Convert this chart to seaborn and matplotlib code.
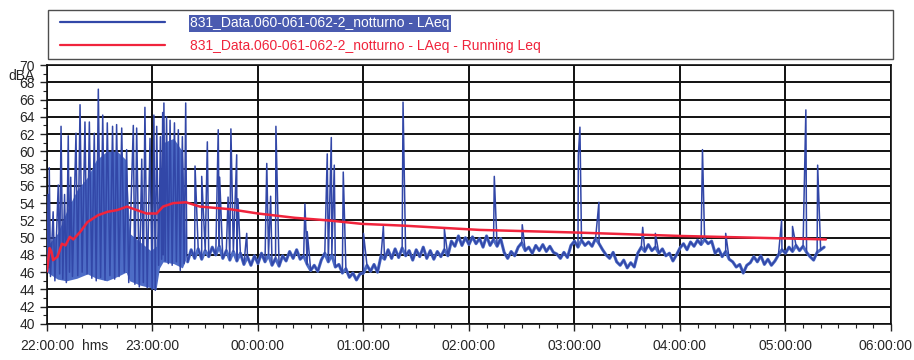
import numpy as np
import matplotlib
matplotlib.use("Agg")
import matplotlib.pyplot as plt
import matplotlib.transforms as mtransforms
from matplotlib import font_manager
from matplotlib.legend_handler import HandlerLine2D
import seaborn as sns

# =============================================================================
# DATA (minutes after 22:00:00, levels in dBA)
# =============================================================================

# busy first part of the night: troughs and peaks of the LAeq trace
busy_min = [0.0, 0.6, 1.0, 1.3, 2.0, 3.5, 4.5, 6.4, 7.2, 8.0, 9.0, 10.0, 11.0, 12.1,
            12.8, 13.5, 14.5, 16.5, 17.5, 18.8, 20.0, 21.6, 22.8, 24.1, 25.5, 26.9,
            28.0, 29.2, 30.5, 31.7, 33.0, 34.3, 35.8, 37.3, 38.5, 39.6, 41.0, 42.5,
            44.0, 45.3, 46.5, 49.1, 50.0, 51.0, 52.5, 53.9, 54.8, 55.7, 57.0, 58.6,
            59.8, 60.8, 61.6, 62.4, 63.5, 64.5, 65.2, 65.8, 66.1, 66.5, 67.2, 68.0,
            69.0, 70.0, 71.2, 72.5, 73.6, 74.7, 75.8, 77.0, 78.0, 78.9, 79.5]
busy_db = [46.0, 55.0, 46.5, 58.1, 45.5, 53.0, 45.0, 56.1, 45.8, 62.9, 45.2, 55.0, 44.8, 61.8,
           46.0, 57.0, 45.5, 62.1, 45.6, 65.4, 46.0, 63.4, 45.8, 63.4, 45.3, 62.1,
           45.0, 67.2, 45.4, 64.2, 45.1, 63.3, 45.6, 62.9, 45.2, 63.1, 45.5, 62.7,
           46.0, 60.2, 44.8, 63.0, 44.6, 62.7, 44.3, 59.1, 44.8, 65.1, 44.2, 61.5,
           44.0, 64.2, 43.9, 62.9, 46.8, 61.7, 47.5, 64.5, 48.0, 65.6, 47.3, 64.0,
           47.0, 63.6, 46.8, 63.3, 47.2, 62.5, 46.2, 61.7, 47.0, 65.6, 48.0]

# dense band of the busy part (lower / upper edge)
band_min = [0, 6, 11, 17, 23, 28, 34, 40, 45, 47, 53, 59, 62, 64, 66, 72, 77, 79]
band_low = [46.0, 45.2, 45.0, 45.3, 45.8, 45.3, 45.0, 45.5, 46.0, 45.0, 44.5, 44.2,
            44.0, 46.5, 47.2, 47.0, 46.5, 47.5]
band_high = [49.0, 50.5, 53.0, 55.5, 57.0, 59.0, 60.0, 60.0, 59.0, 50.5, 49.5, 48.5,
             49.0, 55.0, 61.0, 61.5, 60.0, 49.0]

# quiet floor of the trace, one value every 2 minutes from minute 80 to 442
floor_start, floor_step = 80, 2
floor_db = [
    47.2, 48.6, 47.6, 48.7, 47.5, 48.5, 47.8, 48.9, 48.0, 49.0,
    47.6, 48.5, 47.4, 48.4, 47.3, 48.2, 46.9, 47.8, 46.8, 47.9,
    47.0, 48.2, 47.2, 48.0, 46.8, 47.6, 46.7, 47.9, 47.3, 48.4,
    47.6, 48.6, 47.5, 47.9, 46.9, 46.2, 46.8, 46.1, 47.4, 48.2,
    47.2, 48.0, 46.6, 46.9, 45.9, 46.4, 45.4, 45.9, 45.1, 45.8,
    45.9, 46.8, 46.1, 46.9, 46.0, 47.9, 47.5, 48.6, 47.6, 48.7,
    47.7, 48.8, 47.9, 48.5, 47.4, 48.6, 47.8, 48.9, 47.6, 48.5,
    47.5, 48.4, 47.8, 48.6, 47.9, 49.6, 49.0, 50.2, 49.1, 50.0,
    49.2, 50.1, 49.3, 49.9, 48.9, 50.2, 49.1, 49.8, 49.0, 49.9,
    48.3, 47.6, 48.4, 47.9, 48.9, 49.4, 48.5, 48.9, 48.2, 49.1,
    48.5, 49.2, 48.4, 49.0, 48.3, 48.1, 47.6, 48.3, 47.7, 49.1,
    49.6, 48.9, 49.7, 49.1, 49.5, 49.0, 49.9, 49.3, 48.6, 48.0,
    47.6, 48.3, 47.2, 46.8, 47.4, 46.5, 47.1, 46.6, 48.2, 48.9,
    48.4, 49.2, 48.5, 48.9, 48.2, 48.7, 47.9, 48.2, 47.3, 48.0,
    48.8, 49.3, 48.6, 49.5, 49.0, 49.7, 49.2, 49.8, 49.3, 49.6,
    48.2, 48.7, 47.8, 48.4, 47.5, 47.2, 46.6, 46.9, 45.9, 46.8,
    47.1, 47.8, 47.2, 47.9, 46.9, 47.5, 46.8, 47.3, 48.0, 48.6,
    48.2, 48.9, 48.4, 49.1, 48.5, 49.0, 48.3, 47.8, 47.4, 48.3,
    48.6, 48.9,
]

# isolated events after the busy part
spike_min = [84.2, 88.0, 91.2, 97.4, 98.2, 103.0, 104.6, 107.9, 108.6, 113.6, 125.0,
             127.2, 130.2, 146.7, 148.0, 159.4, 161.7, 163.4, 168.5, 180.0, 191.3,
             202.5, 226.0, 254.4, 270.3, 302.2, 303.1, 313.9, 338.8, 346.0, 372.8,
             386.0, 417.8, 424.0, 431.6, 438.3]
spike_db = [58.3, 57.1, 61.1, 62.5, 57.0, 54.7, 62.6, 59.6, 54.5, 50.5, 58.6,
            54.8, 62.9, 53.9, 50.7, 59.7, 61.6, 58.4, 57.6, 50.5, 51.3,
            65.7, 51.0, 57.1, 51.5, 59.5, 62.8, 54.1, 51.2, 50.5, 60.2,
            50.5, 52.0, 51.3, 64.8, 58.4]

# running Leq
leq_min = [0, 1.5, 2.5, 3.5, 6, 8.5, 10.5, 13, 15, 19, 23, 29, 34.5, 40, 45.5, 51,
           56.6, 62.4, 66, 71.8, 79, 87, 104, 120, 141, 160, 179, 202, 246, 300,
           360, 443]
leq_db = [46.1, 48.8, 48.4, 47.4, 47.8, 49.3, 49.1, 50.1, 49.8, 50.7, 51.8, 52.6,
          53.0, 53.2, 53.6, 53.2, 52.8, 52.8, 53.6, 54.0, 54.1, 53.6, 53.3, 52.8,
          52.3, 52.0, 51.6, 51.4, 50.9, 50.6, 50.2, 49.8]

hour_labels = ["22:00:00", "23:00:00", "00:00:00", "01:00:00", "02:00:00",
               "03:00:00", "04:00:00", "05:00:00", "06:00:00"]

LABEL_LAEQ = "831_Data.060-061-062-2_notturno - LAeq"
LABEL_LEQ = "831_Data.060-061-062-2_notturno - LAeq - Running Leq"

BLUE = "#3247a8"
BAND = "#4d6cc6"
RED = "#f0243c"

# =============================================================================
# PLOT
# =============================================================================

sns.set_theme(style="white")
names = {f.name for f in font_manager.fontManager.ttflist}
family = "Liberation Sans" if "Liberation Sans" in names else "DejaVu Sans"
plt.rcParams["font.family"] = [family, "DejaVu Sans"]

# assemble the LAeq trace
floor_min = floor_start + floor_step * np.arange(len(floor_db))
t = np.concatenate([busy_min, floor_min, spike_min])
v = np.concatenate([busy_db, floor_db, spike_db])
order = np.argsort(t, kind="stable")
t, v = t[order], v[order]

fig = plt.figure(figsize=(9.14, 3.6), dpi=100)
ax = fig.add_axes([0.0514, 0.1, 0.9234, 0.7194])

# dense parts drawn as a band / thick floor, full trace on top
ax.fill_between(band_min, band_low, band_high, color=BAND, lw=0, zorder=2)
sns.lineplot(x=floor_min, y=floor_db, ax=ax, color=BAND, lw=2.2, sort=False,
             estimator=None, zorder=2)
sns.lineplot(x=t, y=v, ax=ax, color=BLUE, lw=1.1, sort=False, estimator=None,
             label=LABEL_LAEQ, zorder=3)
sns.lineplot(x=leq_min, y=leq_db, ax=ax, color=RED, lw=1.8, sort=False,
             estimator=None, label=LABEL_LEQ, zorder=4)

ax.set_xlim(0, 480)
ax.set_ylim(40, 70)
ax.set_xticks(np.arange(0, 481, 60))
ax.set_xticklabels(hour_labels)
ax.set_xticks(np.arange(0, 481, 10), minor=True)
ax.set_yticks(np.arange(40, 71, 2))
ax.set_yticks(np.arange(40, 71, 1), minor=True)
ax.tick_params(axis="both", which="major", direction="out", length=5, width=1,
               color="#222222", labelsize=10, bottom=True, left=True)
ax.tick_params(axis="x", which="major", pad=6)
ax.tick_params(axis="both", which="minor", direction="out", length=3, width=0.8,
               color="#222222", bottom=True, left=True)
ax.grid(True, which="major", color="#111111", lw=1.4, zorder=1)
ax.set_axisbelow(True)
for s in ax.spines.values():
    s.set_color("#111111")
    s.set_linewidth(1.2)
ax.set_xlabel("")
ax.set_ylabel("")

# keep the last hour label inside the picture
last = ax.get_xticklabels()[-1]
last.set_transform(last.get_transform() +
                   mtransforms.ScaledTranslation(-5 / 100, 0, fig.dpi_scale_trans))

ax.text(27.3, -0.058, "hms", transform=ax.get_xaxis_transform(),
        ha="center", va="top", fontsize=10)
fig.text(0.009, 0.79, "dBA", ha="left", va="center", fontsize=10)

handles, labels = ax.get_legend_handles_labels()
ax.get_legend().remove()
leg = fig.legend(handles, labels, loc="upper left",
                 bbox_to_anchor=(0.0525, 0.839, 0.924, 0.133), mode="expand",
                 borderaxespad=0, fontsize=10, handlelength=8.0, handletextpad=1.8,
                 borderpad=0.45, labelspacing=0.6, frameon=True, fancybox=False,
                 handler_map={h: HandlerLine2D(xpad=0.45) for h in handles})
leg.get_frame().set_edgecolor("#222222")
leg.get_frame().set_linewidth(1.0)
for line in leg.get_lines():
    line.set_linewidth(1.6)
texts = leg.get_texts()
texts[0].set_color("white")
texts[0].set_bbox(dict(facecolor="#4a5bb0", edgecolor="none", pad=1))
texts[1].set_color(RED)

fig.savefig("out.png", dpi=100)
